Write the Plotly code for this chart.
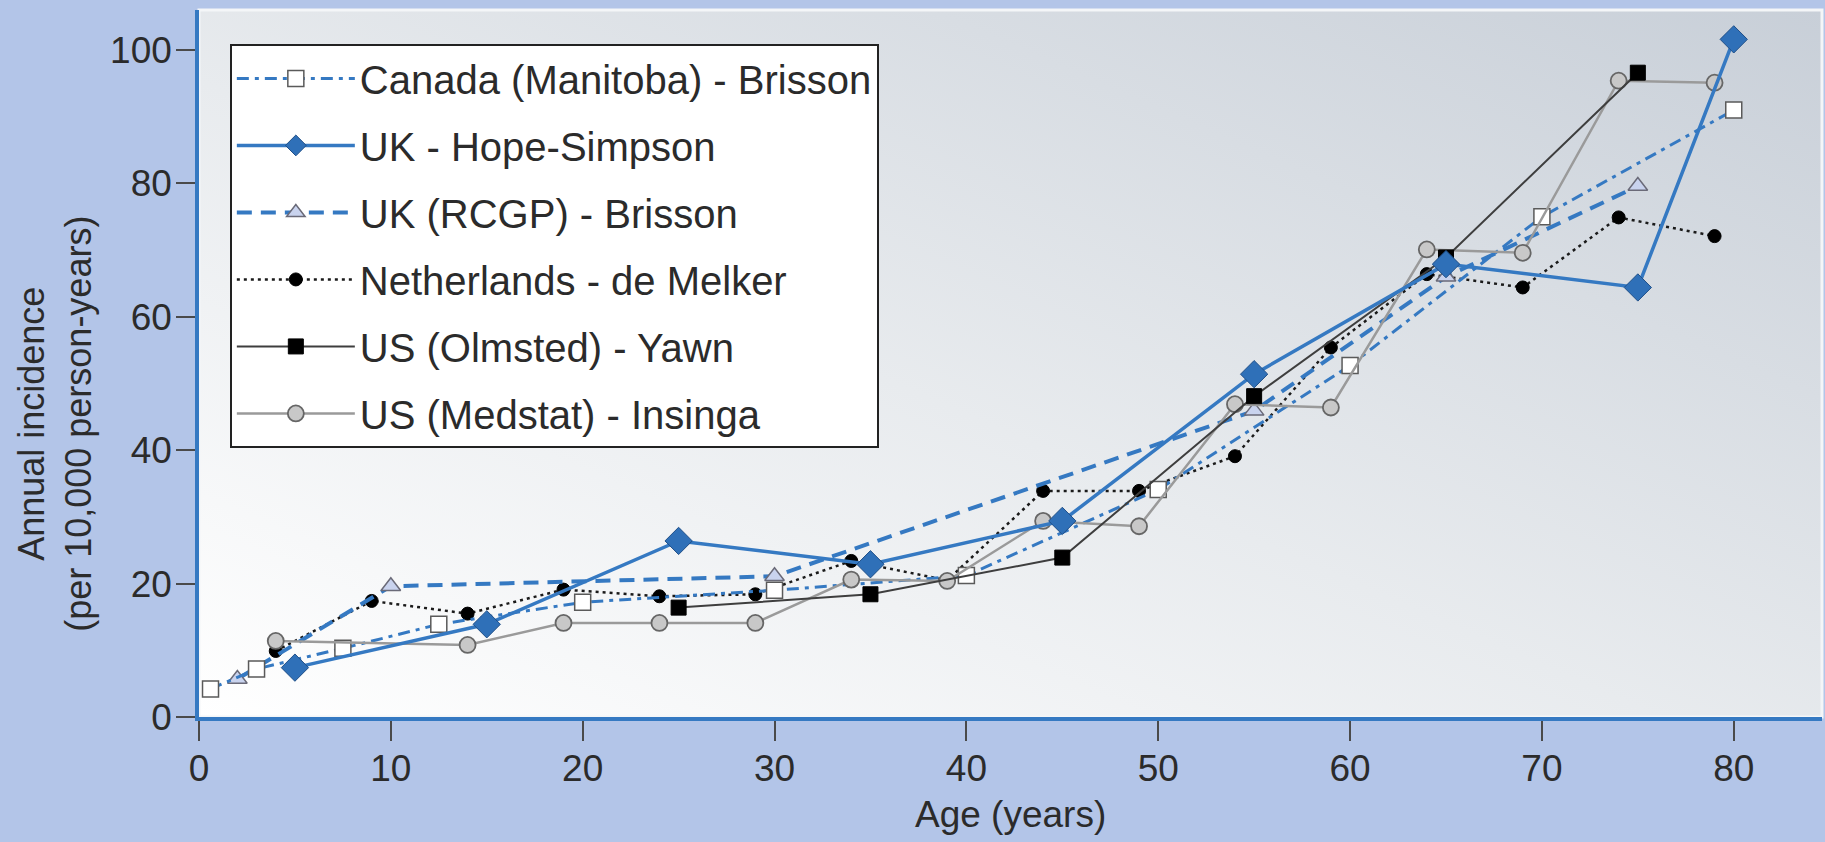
import base64
import plotly.graph_objects as go

# ---- data ----
canada_age = [0.6, 3, 7.5, 12.5, 20, 30, 40, 50, 60, 70, 80]
canada_val = [4.2, 7.2, 10.3, 13.9, 17.2, 19.0, 21.2, 34.1, 52.7, 75.0, 91.0]

hope_age = [5, 15, 25, 35, 45, 55, 65, 75, 80]
hope_val = [7.4, 13.9, 26.4, 22.9, 29.4, 51.4, 67.9, 64.4, 101.6]

rcgp_age = [2, 10, 30, 55, 65, 75]
rcgp_val = [5.7, 19.6, 21.1, 45.9, 66.0, 79.6]

neth_age = [4, 9, 14, 19, 24, 29, 34, 39, 44, 49, 54, 59, 64, 69, 74, 79]
neth_val = [9.9, 17.4, 15.5, 19.1, 18.1, 18.4, 23.4, 20.5, 33.9, 33.9, 39.1, 55.4, 66.4, 64.4, 74.9, 72.1]

olm_age = [25, 35, 45, 55, 65, 75]
olm_val = [16.4, 18.4, 23.9, 48.1, 68.9, 96.6]

med_age = [4, 14, 19, 24, 29, 34, 39, 44, 49, 54, 59, 64, 69, 74, 79]
med_val = [11.4, 10.8, 14.1, 14.1, 14.1, 20.6, 20.4, 29.4, 28.6, 46.9, 46.4, 70.1, 69.6, 95.4, 95.1]

x_ticks = [0, 10, 20, 30, 40, 50, 60, 70, 80]
y_ticks = [0, 20, 40, 60, 80, 100]

FONT = "Liberation Sans, Arial, Helvetica, sans-serif"
TXT = "#2b2b2b"
BLUE = "#3579c2"

fig = go.Figure()

def add(name, xs, ys, line, marker, rank):
    fig.add_trace(go.Scatter(
        x=xs, y=ys, name=name, mode="lines+markers",
        line=line, marker=marker, legendgroup="g%d" % rank, legendrank=rank,
        cliponaxis=False))

add("Netherlands - de Melker", neth_age, neth_val,
    dict(color="#1a1a1a", width=2.5, dash="3px,4px"),
    dict(symbol="circle", size=13, color="#000000", line=dict(color="#000000", width=1)), 4)
add("UK (RCGP) - Brisson", rcgp_age, rcgp_val,
    dict(color=BLUE, width=4, dash="15px,9px"),
    dict(symbol="triangle-up", size=17, color="#c9d3ee", line=dict(color="#6a6a78", width=1.5)), 3)
add("Canada (Manitoba) - Brisson", canada_age, canada_val,
    dict(color=BLUE, width=3, dash="12px,6px,4px,6px"),
    dict(symbol="square", size=16, color="#ffffff", line=dict(color="#5a5a5a", width=1.5)), 1)
add("US (Medstat) - Insinga", med_age, med_val,
    dict(color="#9a9a9a", width=2.5),
    dict(symbol="circle", size=16, color="#c8c8c8", line=dict(color="#666666", width=1.8)), 6)
add("US (Olmsted) - Yawn", olm_age, olm_val,
    dict(color="#3e3e3e", width=2),
    dict(symbol="square", size=15, color="#000000", line=dict(color="#000000", width=1)), 5)
add("UK - Hope-Simpson", hope_age, hope_val,
    dict(color=BLUE, width=3.5),
    dict(symbol="diamond", size=21, color="#2f70b8", line=dict(color="#1f4f88", width=1)), 2)

# gradient background of the plotting area
svg = ("<svg xmlns='http://www.w3.org/2000/svg' width='200' height='100' preserveAspectRatio='none'>"
       "<defs><linearGradient id='g' x1='0' y1='1' x2='1' y2='0'>"
       "<stop offset='0' stop-color='#ffffff'/><stop offset='0.45' stop-color='#e8ebee'/>"
       "<stop offset='1' stop-color='#c8cfd8'/></linearGradient></defs>"
       "<rect width='200' height='100' fill='url(#g)'/></svg>")
src = "data:image/svg+xml;base64," + base64.b64encode(svg.encode()).decode()

fig.update_layout(
    width=1825, height=842,
    margin=dict(l=199, r=3, t=10, b=125),
    paper_bgcolor="#b3c5e8",
    plot_bgcolor="rgba(0,0,0,0)",
    font=dict(family=FONT, size=37, color=TXT),
    showlegend=True,
    images=[dict(source=src, xref="paper", yref="paper", x=0, y=1, sizex=1, sizey=1,
                 sizing="stretch", layer="below", xanchor="left", yanchor="top")],
    shapes=[dict(type="rect", xref="paper", yref="paper", x0=0, y0=0, x1=1, y1=1,
                 line=dict(color="#f4f6f8", width=3), layer="below")],
    legend=dict(x=0.019, y=0.952, xanchor="left", yanchor="top",
                bgcolor="#ffffff", bordercolor="#222222", borderwidth=2,
                font=dict(family=FONT, size=40, color=TXT),
                traceorder="grouped", tracegroupgap=12, itemwidth=118),
    xaxis=dict(range=[0, 84.6], tickvals=x_ticks, showgrid=False, zeroline=False,
               showline=True, linecolor=BLUE, linewidth=3.5,
               ticks="outside", ticklen=20, tickwidth=2, tickcolor="#4a4a4a",
               ticklabelstandoff=-4, tickfont=dict(size=37, color=TXT)),
    yaxis=dict(range=[0, 106], tickvals=y_ticks, showgrid=False, zeroline=False,
               showline=True, linecolor=BLUE, linewidth=3.5,
               ticks="outside", ticklen=19, tickwidth=2, tickcolor="#4a4a4a",
               ticklabelstandoff=-3, tickfont=dict(size=37, color=TXT)),
    annotations=[
        dict(text="Age (years)", xref="paper", yref="paper", x=0.5, y=-0.1386,
             xanchor="center", yanchor="middle", showarrow=False,
             font=dict(size=37, color=TXT)),
        dict(text="Annual incidence<br>(per 10,000 person-years)", xref="paper", yref="paper",
             x=-0.0884, y=0.414, xanchor="center", yanchor="middle", textangle=-90,
             showarrow=False, font=dict(size=36, color=TXT)),
    ],
)

fig.write_html("out.html", config={"displayModeBar": False},
               post_script="document.body.style.margin='0';document.body.style.overflow='hidden';")
